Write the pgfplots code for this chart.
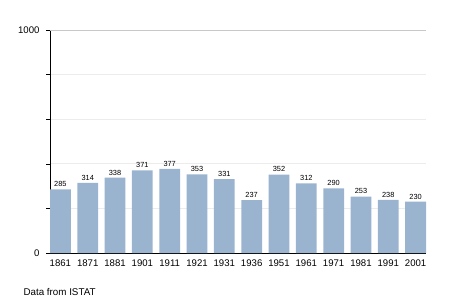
\documentclass[border=0pt]{standalone}
\usepackage{pgfplots}
\pgfplotsset{compat=1.18}
\usepackage{fontspec}
\setmainfont{Liberation Sans}
\definecolor{barblue}{RGB}{154,179,207}
\definecolor{gridl}{RGB}{236,236,236}
\definecolor{gridd}{RGB}{200,200,200}
\begin{document}
\begin{tikzpicture}[x=1pt,y=1pt]
\path[use as bounding box] (0,0) rectangle (455,303);
\begin{axis}[
  at={(50pt,50pt)}, anchor=south west,
  scale only axis, width=376pt, height=223pt,
  ymin=0, ymax=1000,
  xmin=-0.38, xmax=13.38,
  axis x line*=bottom, axis y line*=left,
  axis line style={black, line width=0.8pt, -},
  ytick={0,200,400,600,800,1000},
  yticklabels={0,,,,,1000},
  ytick style={black, line width=0.6pt},
  tick align=outside, major tick length=4pt,
  xtick=data, xtick style={draw=none},
  xticklabels={1861,1871,1881,1901,1911,1921,1931,1936,1951,1961,1971,1981,1991,2001},
  ticklabel style={font=\fontsize{9.6}{10}\selectfont},
  yticklabel style={xshift=-3pt},
  xticklabel style={yshift=1pt},
  /pgf/number format/assume math mode=true,
  ymajorgrids, grid style={gridl, line width=0.8pt},
  extra y ticks={1000}, extra y tick labels={},
  extra y tick style={grid style={gridd, line width=0.8pt}, major tick length=0pt},
  ybar, bar width=0.76,
  nodes near coords,
  every node near coord/.append style={font=\fontsize{7.4}{8}\selectfont, black, yshift=-1pt},
  clip=false,
]
\addplot[fill=barblue, draw=none] coordinates {
(0,285) (1,314) (2,338) (3,371) (4,377) (5,353) (6,331)
(7,237) (8,352) (9,312) (10,290) (11,253) (12,238) (13,230)};
\end{axis}
\node[anchor=base west, font=\fontsize{9.8}{11}\selectfont] at (20,8) {Data from ISTAT};
\end{tikzpicture}
\end{document}
